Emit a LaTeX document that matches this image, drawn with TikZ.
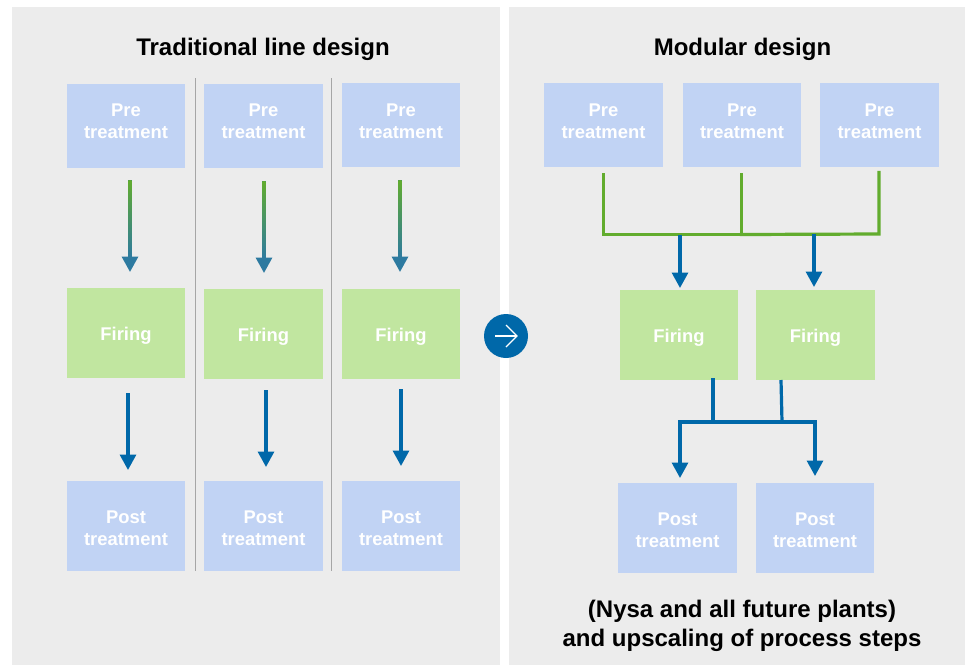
\documentclass[tikz,border=0pt]{standalone}
\usepackage{fontspec}
\setmainfont{Liberation Sans}
\usetikzlibrary{arrows.meta}
\definecolor{panelgray}{HTML}{ECECEC}
\definecolor{boxblue}{HTML}{C1D3F4}
\definecolor{boxgreen}{HTML}{C1E6A0}
\definecolor{linegreen}{HTML}{62AC2E}
\definecolor{lineblue}{HTML}{0068A9}
\definecolor{lineteal}{HTML}{2D7AA0}
\definecolor{sepgray}{HTML}{A6A6A6}
\newcommand{\pretext}[1][10pt]{Pre\\treatment\rule[-#1]{0pt}{0pt}}
\newcommand{\firetext}{\rule{0pt}{19.5pt}Firing}
\newcommand{\posttext}{\rule{0pt}{17.2pt}Post\\treatment}
\begin{document}
\begin{tikzpicture}[
    x=1pt,
    y=-1pt,
    panel/.style={rectangle, fill=panelgray, inner sep=0pt, minimum height=658pt},
    title/.style={font=\fontsize{24}{29}\selectfont\bfseries, align=center, text=black},
    box/.style={rectangle, inner sep=0pt, minimum width=118.5pt, align=center, text=white, font=\fontsize{18.4}{22}\selectfont\bfseries},
    prebox/.style={box, fill=boxblue, minimum height=84pt},
    firebox/.style={box, fill=boxgreen, minimum height=90pt},
    postbox/.style={box, fill=boxblue, minimum height=90pt},
    arrow/.style={-{Triangle[width=16pt,length=15.5pt]}, line width=3.2pt},
    bus/.style={line width=3.2pt, line cap=rect},
    fade/.style={top color=linegreen, bottom color=lineteal},
    sep/.style={sepgray, line width=0.9pt}
]
\useasboundingbox (0,0) rectangle (965,665);

% Panels
\node[panel, minimum width=488pt] (leftpanel) at (256,336) {};
\node[panel, minimum width=456pt] (rightpanel) at (737,336) {};

% Titles
\node[title] (lefttitle) at (263,49) {Traditional line design};
\node[title] (righttitle) at (742.5,49) {Modular design};
\node[title] (note) at (742,625.5) {(Nysa and all future plants)\\and upscaling of process steps};

% Separators
\coordinate (sepAtop) at (195,78);
\coordinate (sepAbot) at (195,571);
\coordinate (sepBtop) at (331.5,78);
\coordinate (sepBbot) at (331.5,571);
\draw[sep] (sepAtop) -- (sepAbot);
\draw[sep] (sepBtop) -- (sepBbot);

% Traditional line
\node[prebox] (preA) at (126,126) {\pretext};
\node[prebox] (preB) at (263.5,126) {\pretext};
\node[prebox] (preC) at (401,125) {\pretext[8pt]};
\node[firebox] (fireA) at (126,333) {\firetext};
\node[firebox] (fireB) at (263.5,334) {\firetext};
\node[firebox] (fireC) at (401,334) {\firetext};
\node[postbox] (postA) at (126,526) {\posttext};
\node[postbox] (postB) at (263.5,526) {\posttext};
\node[postbox] (postC) at (401,526) {\posttext};

% Modular
\node[prebox] (modpreA) at (603.5,125) {\pretext[8pt]};
\node[prebox] (modpreB) at (742,125) {\pretext[8pt]};
\node[prebox] (modpreC) at (879.5,125) {\pretext[8pt]};
\node[firebox] (modfireA) at (679,335) {\firetext};
\node[firebox] (modfireB) at (815.5,335) {\firetext};
\node[postbox] (modpostA) at (677.5,528) {\posttext};
\node[postbox] (modpostB) at (815,528) {\posttext};

% Arrows pre to firing, green into blue
\coordinate (gradAtop) at (130,180);
\coordinate (gradAmid) at (130,258);
\coordinate (gradAend) at (130,272);
\coordinate (gradBtop) at (264,181);
\coordinate (gradBmid) at (264,259);
\coordinate (gradBend) at (264,273);
\coordinate (gradCtop) at (400,180);
\coordinate (gradCmid) at (400,258);
\coordinate (gradCend) at (400,272);
\draw[arrow, lineteal] (gradAtop) -- (gradAend);
\draw[arrow, lineteal] (gradBtop) -- (gradBend);
\draw[arrow, lineteal] (gradCtop) -- (gradCend);
\shade[fade] ([xshift=-1.6pt]gradAtop) rectangle ([xshift=1.6pt]gradAmid);
\shade[fade] ([xshift=-1.6pt]gradBtop) rectangle ([xshift=1.6pt]gradBmid);
\shade[fade] ([xshift=-1.6pt]gradCtop) rectangle ([xshift=1.6pt]gradCmid);

% Arrows firing to post
\coordinate (fireoutA) at (128,393);
\coordinate (fireendA) at (128,470);
\coordinate (fireoutB) at (266,390);
\coordinate (fireendB) at (266,467);
\coordinate (fireoutC) at (401,389);
\coordinate (fireendC) at (401,466);
\draw[arrow, lineblue] (fireoutA) -- (fireendA);
\draw[arrow, lineblue] (fireoutB) -- (fireendB);
\draw[arrow, lineblue] (fireoutC) -- (fireendC);

% Green collector
\coordinate (busA) at (603.5,174.5);
\coordinate (busB) at (741.5,174.5);
\coordinate (busC) at (879,172.5);
\coordinate (busAlow) at (603.5,234.5);
\coordinate (busBlow) at (741.5,234.5);
\coordinate (busClow) at (879,234);
\draw[bus, linegreen] (busA) -- (busAlow) -- (busBlow) -- (busB);
\draw[bus, linegreen] (busBlow) -- (busClow) -- (busC);

% Collector to firing
\coordinate (feedA) at (680,234.5);
\coordinate (feedB) at (814,234);
\coordinate (feedAend) at (680,288);
\coordinate (feedBend) at (814,287);
\draw[arrow, lineblue] (feedA) -- (feedAend);
\draw[arrow, lineblue] (feedB) -- (feedBend);

% Firing to post
\coordinate (dropA) at (713,378);
\coordinate (dropB) at (781,380);
\coordinate (joinA) at (713,422);
\coordinate (joinB) at (782,422);
\coordinate (splitA) at (680,422);
\coordinate (splitB) at (815,422);
\coordinate (splitAend) at (680,478);
\coordinate (splitBend) at (815,476);
\draw[bus, lineblue, line cap=butt] (dropA) -- (joinA);
\draw[bus, lineblue, line cap=butt] (dropB) -- (joinB);
\draw[arrow, lineblue] (splitAend |- splitA) -- (splitAend);
\draw[arrow, lineblue] (splitBend |- splitB) -- (splitBend);
\draw[bus, lineblue] (splitA) -- (splitB);

% Change marker
\node[circle, fill=lineblue, minimum size=44pt, inner sep=0pt] (change) at (506,336) {};
\draw[white, line width=1.3pt] (495,336) -- (517,336);
\draw[white, line width=1.3pt] (506,325) -- (517,336) -- (506,347);

\end{tikzpicture}
\end{document}
